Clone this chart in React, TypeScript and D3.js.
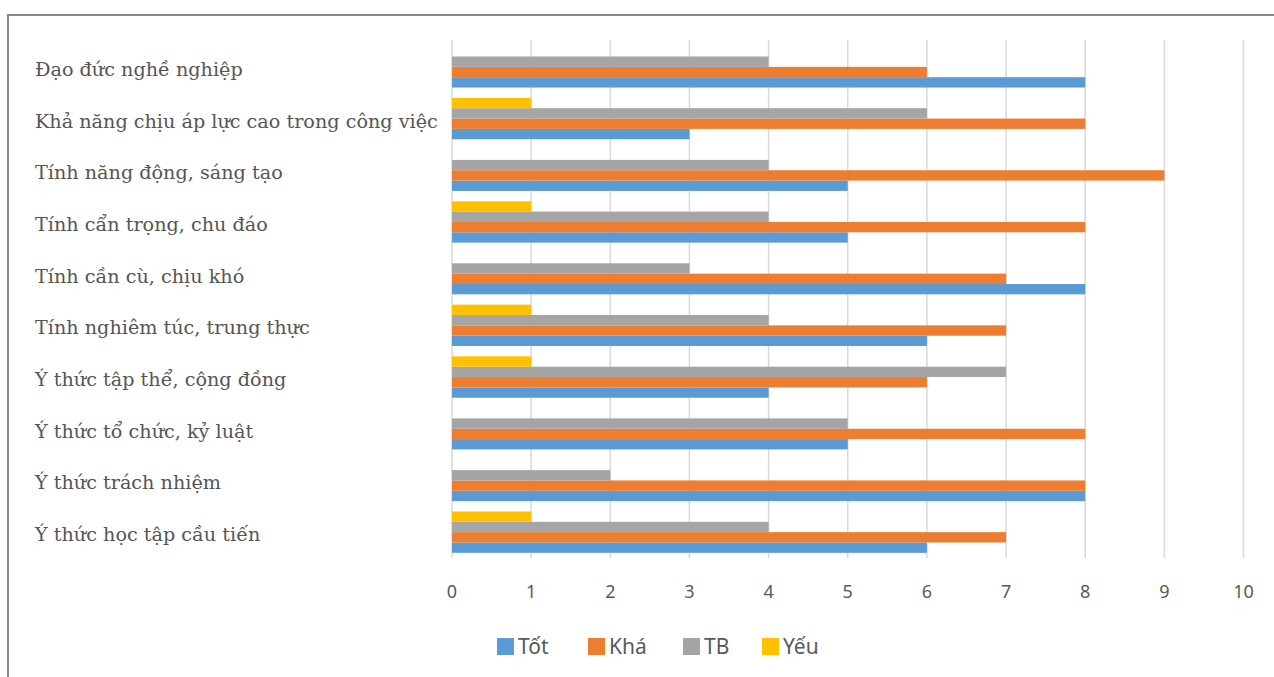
import React from "react";
import * as d3 from "d3";

// Survey categories, top to bottom
const categories = [
  "Đạo đức nghề nghiệp",
  "Khả năng chịu áp lực cao trong công việc",
  "Tính năng động, sáng tạo",
  "Tính cẩn trọng, chu đáo",
  "Tính cần cù, chịu khó",
  "Tính nghiêm túc, trung thực",
  "Ý thức tập thể, cộng đồng",
  "Ý thức tổ chức, kỷ luật",
  "Ý thức trách nhiệm",
  "Ý thức học tập cầu tiến",
];

const seriesNames = ["Tốt", "Khá", "TB", "Yếu"];
const seriesColors = ["#5b9bd5", "#ed7d31", "#a5a5a5", "#ffc000"];

const tot = [8, 3, 5, 5, 8, 6, 4, 5, 8, 6];
const kha = [6, 8, 9, 8, 7, 7, 6, 8, 8, 7];
const tb = [4, 6, 4, 4, 3, 4, 7, 5, 2, 4];
const yeu = [0, 1, 0, 1, 0, 1, 1, 0, 0, 1];

const xTicks = [0, 1, 2, 3, 4, 5, 6, 7, 8, 9, 10];

const W = 1274;
const H = 677;

export default function App() {
  const values = [tot, kha, tb, yeu];

  const x = d3.scaleLinear().domain([0, 10]).range([452, 1243.5]);
  const y = d3
    .scaleBand<string>()
    .domain(categories)
    .range([41, 558])
    .paddingInner(0.2)
    .paddingOuter(0.1);
  // within a group, Yếu sits on top and Tốt at the bottom
  const inner = d3
    .scaleBand<string>()
    .domain(["Yếu", "TB", "Khá", "Tốt"])
    .range([0, y.bandwidth()]);

  const legendItems = [
    { name: seriesNames[0], color: seriesColors[0], x: 497 },
    { name: seriesNames[1], color: seriesColors[1], x: 588 },
    { name: seriesNames[2], color: seriesColors[2], x: 683 },
    { name: seriesNames[3], color: seriesColors[3], x: 762 },
  ];

  return (
    <svg
      width={W}
      height={H}
      style={{ position: "absolute", left: 0, top: 0, background: "#fff" }}
    >
      {/* frame */}
      <line x1={7} x2={W} y1={15} y2={15} stroke="#8a8a8a" strokeWidth={2} />
      <line x1={8} x2={8} y1={14} y2={H} stroke="#8a8a8a" strokeWidth={2} />

      {/* vertical gridlines */}
      {xTicks.map((t) => (
        <line
          key={"g" + t}
          x1={x(t)}
          x2={x(t)}
          y1={40}
          y2={558}
          stroke="#d9d9d9"
          strokeWidth={1.5}
        />
      ))}

      {/* bars */}
      {categories.map((c, i) => (
        <g key={c} transform={`translate(0,${y(c)})`}>
          {seriesNames.map((s, k) =>
            values[k][i] > 0 ? (
              <rect
                key={s}
                x={x(0)}
                y={inner(s)}
                width={x(values[k][i]) - x(0)}
                height={inner.bandwidth()}
                fill={seriesColors[k]}
              />
            ) : null
          )}
        </g>
      ))}

      {/* category labels */}
      {categories.map((c) => (
        <text
          key={"l" + c}
          x={35}
          y={(y(c) as number) + y.bandwidth() / 2 + 9}
          fontFamily="'DejaVu Serif', serif"
          fontSize={19.2}
          fill="#555555"
        >
          {c}
        </text>
      ))}

      {/* x tick labels */}
      {xTicks.map((t) => (
        <text
          key={"t" + t}
          x={x(t)}
          y={598}
          textAnchor="middle"
          fontFamily="'Noto Sans', sans-serif"
          fontSize={18}
          fill="#595959"
        >
          {t}
        </text>
      ))}

      {/* legend */}
      {legendItems.map((d) => (
        <g key={"lg" + d.name}>
          <rect x={d.x} y={638} width={17} height={17} fill={d.color} />
          <text
            x={d.x + 21}
            y={654}
            fontFamily="'Noto Sans', sans-serif"
            fontSize={21}
            fill="#595959"
          >
            {d.name}
          </text>
        </g>
      ))}
    </svg>
  );
}
